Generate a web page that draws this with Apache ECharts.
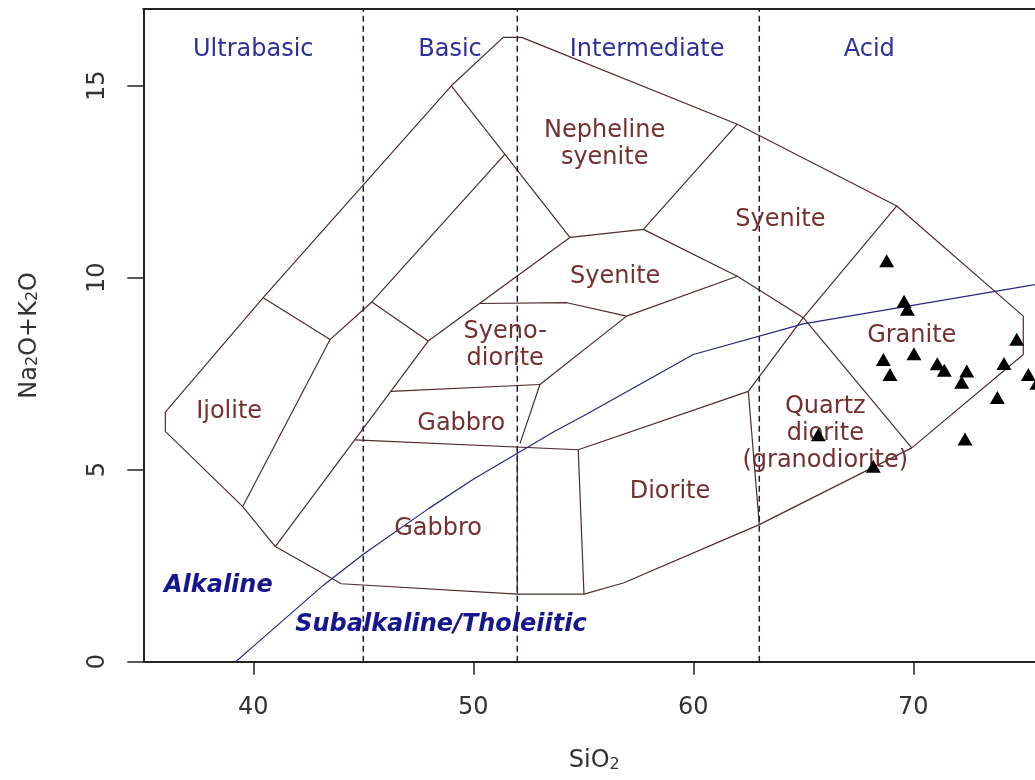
<!DOCTYPE html>
<html><head><meta charset="utf-8">
<script src="https://cdn.jsdelivr.net/npm/echarts@6/dist/echarts.min.js"></script>
<style>html,body{margin:0;padding:0;background:#fff}#c{width:1035px;height:780px}</style>
</head><body><div id="c"></div>
<script>
// ---- axis ticks ----
const xTicks = [40, 50, 60, 70];
const yTicks = [0, 5, 10, 15];
// ---- silica class divisions (dashed) ----
const silicaDivisions = [45, 52, 63];
// ---- TAS field boundaries (SiO2, Na2O+K2O) ----
const outerBoundary = [[36.0,6.0],[36.0,6.5],[40.45,9.48],[49.0,15.0],[51.36,16.26],[52.2,16.26],[62.0,14.0],[69.25,11.87],[75.0,9.0],[75.0,8.0],[69.93,5.57],[63.0,3.57],[56.82,2.05],[55.03,1.76],[52.0,1.76],[44.0,2.03],[41.0,3.0],[39.52,4.04],[36.0,6.0]];
const ijoliteTop = [[40.45,9.48],[43.49,8.39]];
const ijoliteRight = [[43.49,8.39],[39.52,4.04]];
const lineD = [[43.49,8.39],[45.39,9.37],[51.44,13.22]];
const lineE = [[49.0,15.0],[54.39,11.05]];
const lineF = [[45.39,9.37],[47.95,8.35]];
const lineG = [[54.39,11.05],[47.95,8.35]];
const longSlant = [[47.95,8.35],[41.0,3.0]];
const nephSyeniteBottom = [[54.39,11.05],[57.73,11.26],[62.0,14.0]];
const syeniteRight = [[57.73,11.26],[62.0,10.04],[65.0,8.96],[69.93,5.57]];
const syeniteBottom = [[50.3,9.33],[54.25,9.35],[56.97,9.0],[62.0,10.04]];
const syenodioriteRight = [[56.97,9.0],[53.03,7.22],[52.12,5.68]];
const gabbroUpperTop = [[46.25,7.04],[53.03,7.22]];
const gabbroLowerTop = [[44.61,5.78],[54.77,5.52]];
const vertical52 = [[52.0,5.6],[52.0,1.76]];
const dioriteLeft = [[54.77,5.52],[55.03,1.76]];
const dioriteTop = [[54.77,5.52],[62.5,7.04]];
const quartzDioriteLeft = [[62.5,7.04],[63.0,3.57]];
const graniteLeft = [[69.25,11.87],[65.0,8.96],[62.5,7.04]];
// ---- Alkaline / Subalkaline divide (Irvine & Baragar 1971) ----
const divideSilica = [39.2, 40, 43.2, 45, 48, 50, 53.7, 55, 60, 65, 77.4];
const divideAlkali = [0, 0.4, 2, 2.8, 4, 4.75, 6, 6.4, 8, 8.8, 10];
// ---- samples ----
const sampleSilica = [68.79,69.58,69.73,74.70,68.64,70.03,68.94,71.09,71.41,72.43,72.20,74.12,75.23,75.62,73.82,72.35,68.18,65.68];
const sampleAlkali = [10.44,9.39,9.18,8.40,7.87,8.02,7.48,7.76,7.59,7.57,7.28,7.77,7.48,7.25,6.88,5.80,5.09,5.91];
// ---- text labels ----
const rockNames = ["Ijolite","Gabbro","Gabbro","Syeno-\ndiorite","Syenite","Nepheline\nsyenite","Syenite","Diorite","Quartz\ndiorite\n(granodiorite)","Granite"];
const rockSilica = [38.9,49.45,48.4,51.45,56.45,55.97,63.96,58.94,66.0,69.93];
const rockAlkali = [6.5,6.2,3.45,8.25,10.03,13.47,11.52,4.43,5.93,8.48];
const classNames = ["Ultrabasic","Basic","Intermediate","Acid"];
const classSilica = [40,48.94,57.9,68];
const classAlkali = [15.93,15.93,15.93,15.93];
const seriesNames = ["Alkaline","Subalkaline/Tholeiitic"];
const seriesSilica = [38.41,48.53];
const seriesAlkali = [1.97,0.96];

const FONT = 'DejaVu Sans';
const boundaryColor = '#4e2c2c';
const boundaries = [outerBoundary, ijoliteTop, ijoliteRight, lineD, lineE, lineF, lineG, longSlant,
  nephSyeniteBottom, syeniteRight, syeniteBottom, syenodioriteRight, gabbroUpperTop, gabbroLowerTop,
  vertical52, dioriteLeft, dioriteTop, quartzDioriteLeft, graniteLeft];

const series = [];
boundaries.forEach(b => series.push({
  type: 'line', data: b, symbol: 'none', silent: true, z: 2,
  lineStyle: { color: boundaryColor, width: 1.2 }
}));
silicaDivisions.forEach(x => series.push({
  type: 'line', data: [[x, 0], [x, 17]], symbol: 'none', silent: true, z: 3,
  lineStyle: { color: '#1a1a44', width: 1.5, type: [6, 4] }
}));
series.push({
  type: 'line', data: divideSilica.map((s, i) => [s, divideAlkali[i]]), symbol: 'none', silent: true, z: 3,
  lineStyle: { color: '#26267a', width: 1.2 }
});
series.push({
  type: 'scatter', data: sampleSilica.map((s, i) => [s, sampleAlkali[i]]),
  symbol: 'triangle', symbolSize: [15, 13], itemStyle: { color: '#000', opacity: 1 }, z: 6
});
function textSeries(names, xs, ys, style) {
  return {
    type: 'scatter', symbolSize: 0, silent: true, z: 5,
    itemStyle: { opacity: 1 },
    data: names.map((n, i) => ({ name: n, value: [xs[i], ys[i]] })),
    label: Object.assign({ show: true, position: 'inside', formatter: '{b}', fontFamily: FONT, fontSize: 24, opacity: 1 }, style)
  };
}
series.push(textSeries(rockNames, rockSilica, rockAlkali, { color: '#743030', lineHeight: 27 }));
series.push(textSeries(classNames, classSilica, classAlkali, { color: '#2e2e9c' }));
series.push(textSeries(seriesNames, seriesSilica, seriesAlkali, { color: '#16168f', fontWeight: 'bold', fontStyle: 'italic' }));

const axisColor = '#222';
const chart = echarts.init(document.getElementById('c'), null, { renderer: 'canvas' });
chart.setOption({
  animation: false,
  backgroundColor: '#fff',
  grid: { left: 143.3, top: 9, width: 902, height: 652.7, containLabel: false, outerBoundsMode: 'none' },
  xAxis: [{
    type: 'value', min: 35, max: 76,
    name: 'SiO{sub|2}', nameLocation: 'middle', nameGap: 87,
    nameTextStyle: { fontFamily: FONT, fontSize: 24, color: '#333', lineHeight: 24,
      rich: { sub: { fontFamily: FONT, fontSize: 16, lineHeight: 8, verticalAlign: 'bottom', color: '#333' } } },
    axisLine: { show: true, lineStyle: { color: axisColor, width: 2 } },
    axisTick: { show: true, length: 13, customValues: xTicks, lineStyle: { color: axisColor, width: 1.5 } },
    axisLabel: { customValues: xTicks, margin: 34, fontFamily: FONT, fontSize: 24, color: '#333' },
    splitLine: { show: false }
  }, {
    type: 'value', min: 35, max: 76, position: 'top',
    axisLine: { show: true, onZero: false, lineStyle: { color: axisColor, width: 2 } },
    axisTick: { show: false }, axisLabel: { show: false }, splitLine: { show: false }
  }],
  yAxis: {
    type: 'value', min: 0, max: 17,
    name: 'Na{sub|2}O+K{sub|2}O', nameLocation: 'middle', nameGap: 102, nameRotate: 90,
    nameTextStyle: { fontFamily: FONT, fontSize: 24, color: '#333', lineHeight: 24,
      rich: { sub: { fontFamily: FONT, fontSize: 16, lineHeight: 8, verticalAlign: 'bottom', color: '#333' } } },
    axisLine: { show: true, lineStyle: { color: axisColor, width: 2 } },
    axisTick: { show: true, length: 16, customValues: yTicks, lineStyle: { color: axisColor, width: 1.5 } },
    axisLabel: { customValues: yTicks, rotate: 90, margin: 34, fontFamily: FONT, fontSize: 24, color: '#333' },
    splitLine: { show: false }
  },
  series: series
});
</script>
</body></html>
